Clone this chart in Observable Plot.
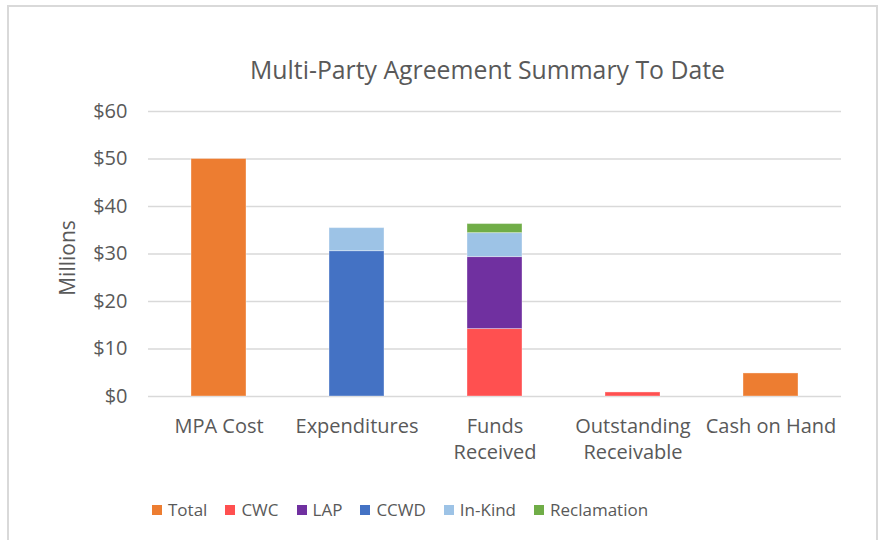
<!DOCTYPE html>
<html>
<head>
<meta charset="utf-8">
<script src="https://cdn.jsdelivr.net/npm/d3@7"></script>
<script src="https://cdn.jsdelivr.net/npm/@observablehq/plot@0.6"></script>
<style>
  html, body { margin: 0; padding: 0; background: #fff; }
  #wrap { position: relative; width: 882px; height: 540px; overflow: hidden; background: #fff; font-family: "Open Sans", sans-serif; }
  #border { position: absolute; left: 7px; top: 5px; width: 871px; height: 560px; border: 2px solid #d9d9d9; box-sizing: border-box; }
  #title { position: absolute; left: 0; width: 975px; top: 52px; text-align: center; font-size: 24.8px; color: #595959; line-height: 34px; }
  #chart { position: absolute; left: 0; top: 90px; }
  #legend { position: absolute; left: 152px; top: 497px; display: flex; align-items: center; font-size: 17px; color: #595959; line-height: 26px; white-space: nowrap; }
  #legend .item { display: flex; align-items: center; margin-right: 18px; }
  #legend .sw { width: 10px; height: 10px; margin-right: 6px; }
</style>
</head>
<body>
<div id="wrap">
  <div id="border"></div>
  <div id="title">Multi-Party Agreement Summary To Date</div>
  <div id="chart"></div>
  <div id="legend"></div>
</div>
<script>
const categories = ["MPA Cost", "Expenditures", "Funds Received", "Outstanding Receivable", "Cash on Hand"];
const categoryLabels = ["MPA Cost", "Expenditures", "Funds\nReceived", "Outstanding\nReceivable", "Cash on Hand"];
const series = ["Total", "CWC", "LAP", "CCWD", "In-Kind", "Reclamation"];
const seriesColors = ["#ED7D31", "#FF5050", "#7030A0", "#4472C4", "#9DC3E6", "#70AD47"];
const total       = [50, 0, 0, 0, 4.85];
const cwc         = [0, 0, 14.2, 0.85, 0];
const lap         = [0, 0, 15.15, 0, 0];
const ccwd        = [0, 30.6, 0, 0, 0];
const inKind      = [0, 4.85, 5.05, 0, 0];
const reclamation = [0, 0, 1.9, 0, 0];
const yTicks = [0, 10, 20, 30, 40, 50, 60];

const seriesValues = [total, cwc, lap, ccwd, inKind, reclamation];
const rows = [];
series.forEach((s, si) => {
  categories.forEach((c, ci) => {
    const v = seriesValues[si][ci];
    if (v > 0) rows.push({category: c, series: s, value: v});
  });
});

const plot = Plot.plot({
  width: 882,
  height: 380,
  marginLeft: 148,
  marginRight: 41,
  marginTop: 21,
  marginBottom: 74,
  style: {fontFamily: "Open Sans, sans-serif", fontSize: "20px", color: "#595959", background: "transparent", overflow: "visible"},
  x: {domain: categories, paddingInner: 0.6, paddingOuter: 0.3, label: null},
  y: {domain: [0, 60], label: null},
  color: {domain: series, range: seriesColors},
  marks: [
    Plot.gridY(yTicks, {stroke: "#d9d9d9", strokeOpacity: 1, strokeWidth: 1.5}),
    Plot.barY(rows, Plot.stackY({order: series}, {x: "category", y: "value", fill: "series", stroke: "#fff", strokeOpacity: 0.35, strokeWidth: 1})),
    Plot.axisY(yTicks, {tickSize: 0, tickPadding: 21, tickFormat: d => "$" + d, label: null}),
    Plot.axisX({tickSize: 0, tickPadding: 18, tickFormat: d => categoryLabels[categories.indexOf(d)], lineHeight: 1.3, label: null}),
    Plot.text(["Millions"], {frameAnchor: "left", dx: -80, dy: 4, rotate: -90, textAnchor: "middle", fontSize: 21, fill: "#595959"})
  ]
});
document.getElementById("chart").appendChild(plot);

const colorScale = plot.scale("color");
const legendEl = document.getElementById("legend");
colorScale.domain.forEach((s, i) => {
  const item = document.createElement("div");
  item.className = "item";
  const sw = document.createElement("span");
  sw.className = "sw";
  sw.style.background = colorScale.range[i];
  const label = document.createElement("span");
  label.textContent = s;
  item.appendChild(sw);
  item.appendChild(label);
  legendEl.appendChild(item);
});
</script>
</body>
</html>
